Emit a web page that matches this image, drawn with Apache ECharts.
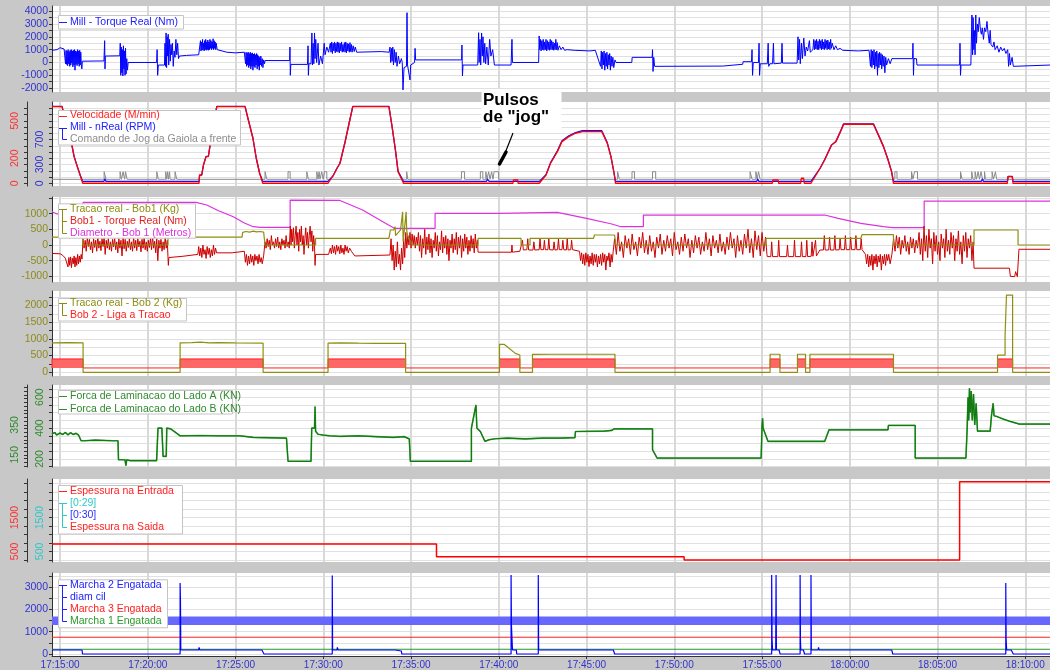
<!DOCTYPE html>
<html><head><meta charset="utf-8">
<script src="https://cdn.jsdelivr.net/npm/echarts@6/dist/echarts.min.js"></script>
<style>html,body{margin:0;padding:0;background:#c8c8c8}#c{width:1050px;height:670px}</style>
</head><body><div id="c"></div><script>
// ---------- DATA (x = minutes after 17:15:00) ----------
const X_MIN = -0.46, X_MAX = 56.41;
const timeTicks = [0,5,10,15,20,25,30,35,40,45,50,55];

const torqueMill = [[-0.46,950],[-0.17,1000],[0,1150],[0.11,1200],[0.23,1050],[0.28,1000],
[0.31,-100],[0.34,950],[0.37,-150],[0.40,900],[0.43,-250],[0.46,1000],[0.49,-100],[0.52,850],[0.55,-300],[0.58,950],[0.61,-200],[0.64,1000],[0.67,-50],[0.70,900],[0.73,-350],[0.76,950],[0.79,-200],[0.82,1000],[0.85,-600],[0.88,900],[0.91,-150],[0.94,850],[0.97,-250],[1.00,1000],[1.03,-100],[1.06,900],[1.09,-300],[1.12,950],[1.15,-200],[1.18,800],[1.21,-150],[1.24,-500],[1.27,100],
[2.50,120],[2.53,100],[2.54,1700],[2.56,-500],[2.58,500],[3.40,520],
[3.43,1500],[3.46,-1000],[3.49,1200],[3.52,-800],[3.55,1000],[3.58,-1050],[3.61,1300],[3.64,-500],[3.67,900],[3.70,-1000],[3.73,1100],[3.76,-900],[3.80,300],[3.84,-600],[3.88,0],
[5.50,0],[5.53,1000],[5.56,-1000],[5.60,-200],[5.95,-200],
[5.98,1500],[6.01,-300],[6.04,2300],[6.07,-400],[6.10,2000],[6.13,500],[6.16,2200],[6.19,-200],[6.24,1800],[6.28,100],[6.32,1400],[6.36,600],[6.40,1500],[6.45,-300],[6.50,900],[6.55,400],[6.60,1800],[6.65,600],[6.70,1500],[6.75,300],[6.80,500],[7.20,550],[7.90,600],
[8.00,1700],[8.03,900],[8.06,1600],[8.09,950],[8.12,1800],[8.15,1000],[8.18,1500],[8.21,900],[8.24,1700],[8.27,1000],[8.30,1800],[8.33,950],[8.36,1600],[8.39,1000],[8.42,1750],[8.45,950],[8.48,1600],[8.51,1000],[8.54,1800],[8.57,1100],[8.60,1700],[8.63,1000],[8.66,1600],[8.69,1100],[8.72,1850],[8.75,1000],[8.78,1700],[8.81,1100],[8.84,1600],[8.87,1000],[8.90,1500],[8.95,1000],[9.00,850],
[9.50,800],[10.00,750],[10.50,800],
[10.57,-100],[10.60,800],[10.63,-300],[10.66,750],[10.69,-200],[10.72,800],[10.75,-400],[10.78,700],[10.81,-250],[10.84,800],[10.87,-500],[10.90,700],[10.93,-300],[10.96,750],[10.99,-600],[11.02,650],[11.05,-300],[11.08,700],[11.11,-400],[11.14,600],[11.17,-200],[11.20,700],[11.23,-500],[11.26,600],[11.29,-300],[11.32,500],[11.35,-600],[11.38,400],[11.41,-200],[11.44,500],[11.48,-300],[11.52,300],[11.56,-400],[11.60,200],[11.65,-100],[11.68,150],
[13.08,150],[13.10,1200],[13.12,-1000],[13.15,-150],[14.10,-150],[14.13,1300],[14.15,-1000],[14.18,-100],
[14.30,-100],[14.35,2300],[14.38,-200],[14.42,1500],[14.46,-100],[14.50,2300],[14.53,300],[14.57,1800],[14.62,0],[14.70,1500],[14.75,-200],[14.85,500],[14.95,-100],[15.05,1500],[15.10,600],[15.20,1200],[15.30,800],
[15.40,1500],[15.44,800],[15.48,1600],[15.52,700],[15.56,1500],[15.60,900],[15.64,1600],[15.68,750],[15.72,1500],[15.76,850],[15.80,1600],[15.84,800],[15.88,1550],[15.92,750],[15.96,1500],[16.00,900],[16.04,1600],[16.08,800],[16.12,1400],[16.16,850],[16.20,1550],[16.24,800],[16.28,1600],[16.32,750],[16.36,1500],[16.40,900],[16.44,1450],[16.48,800],[16.52,1550],[16.56,850],[16.60,1400],[16.64,800],[16.70,1300],[16.76,850],[16.82,1200],[16.90,800],[17.00,850],[18.30,850],[18.75,800],
[18.80,1200],[18.84,0],[18.88,1100],[18.92,100],[18.96,1200],[19.00,-200],[19.05,1000],[19.10,0],[19.15,800],[19.20,-300],[19.28,500],[19.35,-100],[19.45,300],[19.50,0],
[19.54,-2140],[19.60,-400],[19.74,-300],[19.77,3880],[19.80,-200],[19.90,-100],[19.94,-1360],[19.98,-200],
[20.20,0],[20.23,1100],[20.26,200],[22.88,200],[22.90,1360],[22.93,-1050],[22.96,-200],[23.80,-200],
[23.85,2320],[23.88,0],[23.93,1800],[23.97,-200],[24.02,2300],[24.06,500],[24.10,2000],[24.15,0],[24.20,1500],[24.25,-100],[24.32,1200],[24.40,-200],[24.48,1800],[24.55,500],[24.65,1000],[24.75,-200],[25.70,-200],[25.75,1800],[25.78,0],[27.27,0],
[27.30,2065],[27.33,1000],[27.37,1800],[27.41,900],[27.45,1700],[27.49,1000],[27.53,1800],[27.57,950],[27.61,1600],[27.65,1000],[27.69,1800],[27.73,900],[27.77,1700],[27.81,1000],[27.85,1600],[27.89,950],[27.93,1800],[27.97,1000],[28.01,1700],[28.05,1000],[28.09,1600],[28.13,950],[28.17,1500],[28.21,1000],[28.25,1800],[28.29,1000],[28.33,1550],[28.37,950],[28.45,1300],[28.55,1000],[28.65,1200],[28.75,950],[28.90,1000],[29.30,950],[30.20,900],[30.50,950],
[30.80,-300],[30.84,900],[30.88,-500],[30.92,800],[30.96,-200],[31.00,900],[31.04,-600],[31.08,700],[31.12,-300],[31.16,800],[31.20,-500],[31.24,600],[31.28,-200],[31.32,700],[31.36,-600],[31.40,500],[31.45,-300],[31.50,400],[31.55,-400],[31.62,200],[31.68,0],
[32.58,0],[32.60,400],[33.74,400],[33.76,1000],[33.79,-700],[33.83,400],[33.88,-300],[37.76,-280],[37.78,-140],[38.90,-140],[38.92,60],[39.40,60],
[39.43,1000],[39.46,-1000],[39.50,0],[39.80,0],[39.83,1500],[39.86,-1000],[39.90,-100],
[40.30,-100],[40.35,1500],[40.38,-300],[40.45,-100],[40.60,-100],[40.65,1500],[40.68,-100],[41.10,-50],[41.14,1500],[41.17,-50],[41.60,-50],
[42.00,-50],[42.05,2000],[42.09,200],[42.14,1800],[42.18,-100],[42.25,1500],[42.30,300],[42.38,1900],[42.45,500],[42.52,1200],[42.60,900],[42.70,1700],[42.75,800],[42.90,1000],
[42.95,1800],[42.99,1000],[43.03,1700],[43.07,1050],[43.11,1800],[43.15,1000],[43.19,1650],[43.23,1000],[43.27,1800],[43.31,1100],[43.35,1700],[43.39,1000],[43.43,1800],[43.47,1050],[43.51,1600],[43.55,1000],[43.59,1800],[43.63,1100],[43.67,1700],[43.71,1000],[43.75,1750],[43.79,1050],[43.83,1600],[43.87,1000],[43.91,1800],[43.95,1100],[44.00,1500],[44.10,1000],[44.20,1300],[44.30,1000],[44.45,1100],[44.60,950],[45.50,900],[46.10,950],
[46.18,-300],[46.22,1000],[46.26,-400],[46.30,900],[46.34,-200],[46.38,1000],[46.42,-500],[46.46,800],[46.50,-300],[46.54,900],[46.58,-1000],[46.62,700],[46.66,-400],[46.70,800],[46.74,-200],[46.78,700],[46.82,-500],[46.86,600],[46.90,-300],[46.95,500],[47.00,-800],[47.05,400],[47.10,-200],[47.20,300],[47.30,-100],[47.40,300],[47.58,300],
[48.58,300],[48.60,1500],[48.63,-1000],[48.66,300],[48.80,300],[48.83,-200],[51.26,-200],[51.28,1500],[51.31,-1000],[51.34,-200],[51.90,-200],
[51.96,3700],[52.00,600],[52.03,3500],[52.07,1000],[52.10,2500],[52.14,600],[52.18,3700],[52.22,1500],[52.27,3000],[52.32,2400],[52.38,3500],[52.45,2500],[52.50,2200],[52.55,2700],[52.62,1800],[52.68,2700],[52.75,2400],[52.82,3200],[52.88,2300],[52.95,1500],[53.00,2500],[53.05,1400],[53.15,1200],[53.22,1600],[53.28,1000],[53.40,1300],[53.50,800],[53.60,1200],[53.70,900],[53.80,1100],[53.90,700],[54.00,1000],
[54.05,-300],[54.10,700],[54.15,-200],[54.25,400],[54.32,-300],[54.40,-200],[56.41,-200]];

const velocidade = [[-0.46,613],[0.11,613],[0.68,300],[0.80,213],[0.98,133],[1.14,66],[1.29,0],[7.92,0],[7.95,66],[8.07,66],[8.17,146],[8.32,213],[8.45,213],[8.55,306],[8.93,613],[10.54,613],[10.73,506],[10.99,360],[11.18,200],[11.37,80],[11.55,0],
[15.27,0],[15.56,60],[15.78,120],[15.95,160],[16.24,330],[16.47,480],[16.68,613],[18.74,613],[18.92,453],[19.11,266],[19.26,93],[19.57,0],
[25.80,0],[25.84,26],[26.08,26],[26.10,0],[27.31,0],[27.69,66],[27.95,160],[28.34,253],[28.60,333],[28.99,373],[29.37,400],[29.76,413],[30.87,413],[31.18,320],[31.39,213],[31.57,80],[31.65,0],
[40.58,0],[40.62,26],[40.91,26],[40.95,0],[42.20,0],[42.24,40],[42.37,40],[42.41,0],
[42.79,0],[43.31,120],[43.57,186],[43.96,306],[44.21,333],[44.47,413],[44.65,472],[46.35,472],[46.67,373],[46.92,293],[47.18,186],[47.38,93],[47.49,0],
[53.98,0],[54.02,53],[54.26,53],[54.30,0],[56.41,0]];

const rpmMill = [[-0.46,1230],[0.11,1230],[0.68,600],[0.80,430],[0.98,270],[1.14,135],[1.29,30],[2.50,30],[2.55,70],[2.62,30],[3.60,30],[3.65,60],[3.75,30],[7.92,30],[7.95,130],[8.07,130],[8.17,290],[8.32,430],[8.45,430],[8.55,610],[8.93,1230],[10.54,1230],[10.73,1010],[10.99,720],[11.18,400],[11.37,160],[11.55,30],
[15.27,30],[15.56,120],[15.78,240],[15.95,320],[16.24,660],[16.47,960],[16.68,1230],[18.74,1230],[18.92,900],[19.11,530],[19.26,190],[19.57,30],
[24.30,30],[24.35,70],[24.45,30],[27.31,30],[27.69,135],[27.95,330],[28.34,520],[28.60,680],[28.99,760],[29.37,810],[29.76,840],[30.87,840],[31.18,650],[31.39,430],[31.57,160],[31.65,30],
[39.70,30],[39.75,70],[39.82,30],[42.79,30],[43.31,240],[43.57,380],[43.96,610],[44.21,670],[44.47,830],[44.65,950],[46.35,950],[46.67,750],[46.92,590],[47.18,380],[47.38,190],[47.49,30],
[52.50,30],[52.55,70],[52.62,30],[53.98,30],[54.02,110],[54.26,110],[54.30,30],[56.41,30]];

const jogStart = [2.51,3.42,3.59,3.73,5.51,6.02,6.13,6.24,6.55,11.68,12.99,14.06,14.63,14.76,14.91,15.07,19.75,22.87,23.95,24.26,24.42,24.59,24.73,31.77,32.59,33.76,39.32,39.65,39.80,47.57,48.52,48.69,51.31,51.95,52.14,52.31,52.48,52.68,53.11,53.30];
const jogEnd   = [2.62,3.50,3.68,3.82,5.60,6.08,6.18,6.27,6.65,11.78,13.11,14.15,14.70,14.81,14.99,15.20,19.81,23.05,24.09,24.33,24.50,24.67,24.99,31.87,32.73,33.94,39.43,39.72,39.89,47.69,48.60,48.86,51.40,52.02,52.22,52.39,52.56,52.73,53.19,53.37];
const jogLevels = [0, 1];

const diametroBob1 = [[-0.46,1060],[-0.17,990],[1.00,900],[1.31,900],[1.31,1360],[7.75,1360],[8.36,1274],[9.00,1100],[9.87,900],[10.50,700],[11.01,583],[11.40,564],[13.11,564],[13.11,1433],[15.95,1420],[17.24,1115],[18.54,691],[19.05,532],[21.37,532],[21.37,1010],[25.00,1010],[25.04,1060],[28.34,1040],[30.00,850],[31.44,669],[31.95,583],[33.24,583],[33.24,955],[43.57,955],[44.34,850],[45.63,691],[46.92,583],[47.44,551],[49.24,551],[49.24,1400],[56.41,1400]];

const tracaoBob1 = [[-0.46,250],[1.31,250],[1.31,0],[6.15,0],[6.15,250],[10.37,250],[10.40,400],[10.60,430],[10.80,410],[11.00,440],[11.20,420],[11.40,430],[11.60,410],[11.68,0],[14.56,0],[14.56,213],[18.74,213],[18.82,478],[19.00,480],[19.09,583],[19.12,300],[19.40,480],[19.52,1060],[19.55,100],[19.72,1060],[19.75,480],[19.80,300],[20.08,0],[23.82,0],[23.82,213],[26.27,213],[26.27,0],[26.78,0],[26.78,213],[30.40,213],[30.45,318],[31.60,318],[31.67,0],[40.22,0],[40.22,213],[45.63,213],[45.70,330],[47.49,330],[47.49,0],[52.08,0],[52.08,478],[54.59,478],[54.59,0],[56.41,0]];

const torqueBob1 = [[-0.46,-270],[0.00,-280],[0.15,-330],[0.30,-420],[0.40,-450],
[0.45,-700],[0.50,-400],[0.55,-650],[0.60,-380],[0.65,-720],[0.70,-420],[0.75,-600],[0.80,-350],[0.85,-700],[0.90,-400],[0.95,-650],[1.00,-300],[1.05,-600],[1.10,-350],[1.15,-550],[1.20,-300],[1.25,-450],
[1.31,200],[1.37,-100],[1.43,150],[1.49,-200],[1.55,250],[1.61,-50],[1.67,180],[1.73,-150],[1.79,100],[1.85,-250],[1.91,200],[1.97,-80],[2.03,150],[2.09,-200],[2.15,300],[2.21,-100],[2.27,120],[2.33,-180],[2.39,200],[2.45,-50],[2.51,250],[2.57,-300],[2.63,150],[2.69,-100],[2.75,200],[2.81,-150],[2.87,100],[2.93,-200],[2.99,180],[3.05,-60],[3.11,220],[3.17,-150],[3.23,100],[3.29,-250],[3.35,200],[3.41,-100],[3.47,150],[3.53,-350],[3.59,250],[3.65,-120],[3.71,180],[3.77,-200],[3.83,120],[3.89,-80],[3.95,200],[4.01,-150],[4.07,100],[4.13,-200],[4.19,250],[4.25,-100],[4.31,150],[4.37,-180],[4.43,200],[4.49,-60],[4.55,120],[4.61,-220],[4.67,180],[4.73,-100],[4.79,250],[4.85,-150],[4.91,100],[4.97,-200],[5.03,150],[5.09,-80],[5.15,200],[5.21,-150],[5.27,300],[5.33,-100],[5.39,120],[5.45,-250],[5.51,200],[5.57,-500],[5.63,150],[5.69,-100],[5.75,180],[5.81,-200],[5.87,100],[5.93,-150],[5.99,250],[6.05,-100],[6.11,150],
[6.15,-400],[6.17,-650],[6.20,-400],[7.00,-360],[7.85,-300],
[7.90,-50],[7.96,-350],[8.02,-100],[8.08,-400],[8.14,0],[8.20,-300],[8.26,-150],[8.32,-430],[8.38,-50],[8.44,-300],[8.50,-100],[8.56,-400],[8.62,-150],[8.68,-350],[8.74,0],[8.80,-300],[8.86,-100],[8.92,-250],[9.00,-300],[9.80,-250],[10.50,-200],
[10.56,-550],[10.62,-300],[10.68,-650],[10.74,-350],[10.80,-600],[10.86,-300],[10.92,-550],[10.98,-350],[11.04,-650],[11.10,-300],[11.16,-500],[11.22,-350],[11.28,-600],[11.34,-300],[11.40,-550],[11.46,-400],[11.52,-600],[11.60,-350],
[11.68,100],[11.74,-100],[11.80,200],[11.86,-50],[11.92,150],[11.98,-150],[12.04,300],[12.10,0],[12.16,100],[12.22,-100],[12.28,200],[12.34,-50],[12.40,250],[12.46,-100],[12.52,100],[12.58,-150],[12.64,200],[12.70,0],[12.76,150],[12.82,-100],[12.88,300],[12.94,-50],[13.00,100],[13.06,-100],
[13.12,600],[13.16,0],[13.20,500],[13.25,100],[13.30,550],[13.35,-100],[13.40,300],[13.45,600],[13.50,0],[13.55,400],[13.60,-200],[13.65,500],[13.70,100],[13.75,600],[13.80,0],[13.85,300],[13.90,-300],[13.95,200],[14.00,550],[14.05,0],[14.10,400],[14.15,-100],[14.20,300],[14.25,600],[14.30,100],[14.35,450],[14.40,-200],[14.45,300],[14.50,0],
[14.53,-650],[14.56,-300],[15.30,-300],[15.40,-100],[15.46,-280],[15.52,0],[15.58,-250],[15.64,-50],[15.70,-300],[15.76,0],[15.82,-200],[15.88,-50],[15.94,-280],[16.00,0],[16.06,-250],[16.12,-100],[16.18,-300],[16.24,0],[16.30,-200],[16.36,-50],[16.42,-250],[16.50,-100],[16.60,-200],[16.80,-350],[18.80,-320],
[18.86,200],[18.92,-500],[18.98,0],[19.04,-800],[19.10,-200],[19.16,-700],[19.22,100],[19.28,-600],[19.34,-300],[19.40,-800],[19.46,-100],[19.52,-600],[19.58,200],[19.64,-400],
[19.70,400],[19.76,-100],[19.82,300],[19.88,0],[19.94,400],[20.00,-100],[20.06,350],[20.12,0],[20.18,300],[20.24,-100],[20.30,250],[20.36,0],
[20.42,400],[20.48,-200],[20.54,300],[20.60,-400],[20.66,200],[20.72,-100],[20.78,500],[20.84,-300],[20.90,250],[20.96,-150],[21.02,350],[21.08,-250],[21.14,200],[21.20,-400],[21.26,150],[21.32,-100],[21.38,400],[21.44,-200],[21.50,300],[21.56,-350],[21.62,100],[21.68,-150],[21.74,450],[21.80,-250],[21.86,250],[21.92,-100],[21.98,300],[22.04,-300],[22.10,200],[22.16,-500],[22.22,150],[22.28,-100],[22.34,350],[22.40,-250],[22.46,200],[22.52,-150],[22.58,400],[22.64,-300],[22.70,250],[22.76,-100],[22.82,300],[22.88,-400],[22.94,200],[23.00,-200],[23.06,350],[23.12,-100],[23.18,250],[23.24,-300],[23.30,150],[23.36,-200],[23.42,300],[23.48,-100],[23.54,200],[23.60,-250],[23.66,350],[23.72,-100],[23.78,150],
[23.82,-230],[25.72,-230],[25.75,0],[25.78,-230],[26.20,-200],
[26.30,-160],[26.35,150],[26.40,-160],[26.60,-150],[26.65,200],[26.70,-160],[26.95,-160],[27.00,100],[27.05,-160],[27.30,-150],[27.35,200],[27.40,-150],[27.55,-150],[27.60,150],[27.65,-150],[27.80,-150],[27.85,200],[27.90,-150],[28.10,-160],[28.15,100],[28.20,-160],[28.35,-150],[28.40,200],[28.45,-150],[28.60,-150],[28.65,150],[28.70,-150],[28.85,-160],[28.90,200],[28.95,-160],[29.10,-150],[29.15,150],[29.20,-150],[29.60,-200],
[29.66,-500],[29.72,-250],[29.78,-600],[29.84,-300],[29.90,-650],[29.96,-250],[30.02,-550],[30.08,-300],[30.14,-690],[30.20,-350],[30.26,-600],[30.32,-250],[30.38,-650],[30.44,-300],[30.50,-550],[30.56,-300],[30.62,-700],[30.68,-350],[30.74,-600],[30.80,-300],[30.86,-650],[30.92,-250],[30.98,-550],[31.04,-300],[31.10,-800],[31.16,-350],[31.22,-500],[31.28,-250],[31.34,-700],[31.40,-300],[31.46,-550],[31.52,-200],
[31.60,200],[31.70,-300],[31.80,400],[31.90,-200],[32.00,100],[32.10,-400],[32.20,300],[32.30,-100],[32.40,200],[32.50,-300],[32.60,350],[32.70,-150],[32.80,100],[32.90,-350],[33.00,250],[33.10,-100],[33.20,400],[33.30,-250],[33.40,150],[33.50,-300],[33.60,300],[33.70,-200],[33.80,100],[33.90,-400],[34.00,250],[34.10,-100],[34.20,350],[34.30,-300],[34.40,150],[34.50,-200],[34.60,300],[34.70,-100],[34.80,200],[34.90,-350],[35.00,400],[35.10,-150],[35.20,100],[35.30,-300],[35.40,250],[35.50,-200],[35.60,350],[35.70,-100],[35.80,200],[35.90,-400],[36.00,150],[36.10,-250],[36.20,300],[36.30,-100],[36.40,250],[36.50,-300],[36.60,100],[36.70,-200],[36.80,400],[36.90,-150],[37.00,200],[37.10,-350],[37.20,300],[37.30,-100],[37.40,150],[37.50,-250],[37.60,350],[37.70,-200],[37.80,100],[37.90,-300],[38.00,250],[38.10,-150],[38.20,400],[38.30,-100],[38.40,200],[38.50,-400],[38.60,300],[38.70,-200],[38.80,150],[38.90,-300],[39.00,350],[39.10,-100],[39.20,500],[39.30,-250],[39.40,200],[39.50,-400],[39.60,450],[39.70,-150],[39.80,300],[39.90,-350],[40.00,400],[40.10,-200],[40.20,250],[40.28,-300],
[40.30,-370],[40.50,-370],[40.55,100],[40.60,-370],[40.90,-370],[40.95,150],[41.00,-370],[41.40,-370],[41.45,0],[41.50,-370],[41.80,-370],[41.85,150],[41.90,-370],[42.20,-370],[42.25,100],[42.30,-370],[42.50,-370],[42.55,150],[42.60,-370],[42.80,-360],[42.85,100],[42.90,-360],[43.00,-350],[43.05,150],[43.10,-350],[43.30,-160],
[43.50,-160],[43.55,300],[43.60,-160],[43.80,-160],[43.85,250],[43.90,-160],[44.10,-160],[44.15,300],[44.20,-160],[44.40,-150],[44.45,200],[44.50,-150],[44.70,-150],[44.75,300],[44.80,-150],[45.00,-150],[45.05,250],[45.10,-150],[45.30,-150],[45.35,300],[45.40,-150],[45.60,-150],[45.65,200],[45.70,-150],[45.90,-300],
[45.96,-600],[46.02,-300],[46.08,-700],[46.14,-350],[46.20,-650],[46.26,-300],[46.32,-800],[46.38,-350],[46.44,-600],[46.50,-300],[46.56,-700],[46.62,-350],[46.68,-550],[46.74,-300],[46.80,-800],[46.86,-350],[46.92,-600],[46.98,-300],[47.04,-650],[47.10,-300],[47.16,-500],[47.22,-300],[47.30,-600],[47.40,-300],
[47.50,200],[47.58,-200],[47.66,300],[47.74,-100],[47.82,250],[47.90,-300],[47.98,150],[48.06,-100],[48.14,300],[48.22,-200],[48.30,100],[48.38,-300],[48.46,250],[48.54,-100],[48.62,200],[48.70,-250],[48.78,150],[48.86,-100],
[48.95,400],[49.02,-300],[49.09,200],[49.16,-500],[49.23,600],[49.30,-200],[49.37,300],[49.44,-400],[49.51,500],[49.58,-100],[49.65,200],[49.72,-600],[49.79,400],[49.86,-200],[49.93,300],[50.00,-300],[50.07,100],[50.14,-500],[50.21,350],[50.28,-100],[50.35,200],[50.42,-400],[50.49,500],[50.56,-200],[50.63,150],[50.70,-300],[50.77,400],[50.84,-100],[50.91,300],[50.98,-500],[51.05,200],[51.12,-200],[51.19,450],[51.26,-300],[51.33,100],[51.40,-600],[51.47,300],[51.54,-200],[51.61,400],[51.68,-400],[51.75,200],[51.82,-100],[51.89,300],[51.96,-500],[52.03,100],
[52.08,-740],[54.10,-740],[54.15,-1000],[54.40,-1010],[54.45,-850],[54.55,-1010],[54.62,-1000],[54.64,-137],[56.41,-137]];

const tracaoBob2 = [[-0.46,880],[0.50,885],[1.31,880],[1.31,0],[6.84,0],[6.84,880],[7.50,890],[8.00,900],[8.50,880],[9.00,890],[10.00,880],[11.57,870],[11.57,0],[15.27,0],[15.27,870],[16.00,880],[17.00,870],[18.00,866],[19.69,866],[19.69,0],[25.04,0],[25.04,836],[25.30,836],[25.55,734],[25.94,567],[26.20,516],[26.20,0],[26.92,0],[26.92,537],[28.00,540],[30.00,540],[31.62,540],[31.62,0],[40.46,0],[40.46,540],[41.02,540],[41.02,0],[42.02,0],[42.02,540],[42.48,540],[42.48,0],[42.73,0],[42.73,540],[45.00,540],[47.49,540],[47.49,0],[53.42,0],[53.42,516],[53.85,516],[53.85,1113],[53.93,2307],[54.28,2307],[54.28,0],[56.41,0]];

const ligaStart = [-0.46,6.84,15.27,25.04,26.92,40.46,42.02,42.73,53.42];
const ligaEnd   = [1.31,11.57,19.69,26.20,31.62,41.02,42.48,47.49,54.28];
const ligaLevels = [130, 400];

const forcaA = [[-0.46,361],[-0.30,372],[-0.20,355],[0.00,368],[0.15,358],[0.30,372],[0.45,356],[0.60,370],[0.75,358],[0.90,366],[1.05,355],[1.14,362],[1.20,318],[1.40,318],[2.00,322],[3.00,318],[3.30,318],[3.33,195],[3.70,195],[3.75,157],[3.80,195],[4.00,189],[5.50,189],[5.58,400],[5.80,400],[5.87,217],[6.05,217],[6.08,400],[6.30,395],[6.60,370],[6.84,350],[8.00,352],[9.00,350],[10.26,350],[11.00,340],[12.90,335],[12.99,185],[14.30,185],[14.34,400],[14.50,400],[14.53,539],[14.56,380],[14.70,360],[15.00,355],[15.38,350],[16.00,346],[17.00,350],[18.00,345],[19.00,340],[19.60,345],[19.90,330],[19.96,185],[23.44,185],[23.44,400],[23.70,550],[23.75,400],[23.95,378],[24.21,314],[24.46,325],[24.80,331],[25.50,335],[26.50,330],[27.50,335],[28.50,335],[29.34,338],[29.37,378],[31.00,380],[31.44,385],[31.57,395],[33.76,395],[33.76,260],[34.02,206],[39.95,206],[40.00,410],[40.03,464],[40.06,400],[40.34,314],[43.57,314],[43.82,389],[47.18,389],[47.20,417],[48.73,417],[48.73,206],[51.62,206],[51.69,400],[51.74,600],[51.78,450],[51.82,658],[51.86,500],[51.92,640],[51.98,450],[52.05,620],[52.12,420],[52.20,560],[52.28,380],[52.34,378],[52.50,380],[53.00,380],[53.08,486],[53.17,561],[53.22,480],[53.38,475],[53.70,460],[54.15,443],[54.66,426],[56.41,426]];

const espessuraEntrada = [[-0.46,718],[21.45,718],[21.45,344],[35.56,344],[35.56,247],[51.26,247],[51.26,2559],[56.41,2559]];

const diamCil = [[-0.46,1490],[56.41,1490]];
const marcha3 = [[-0.46,752],[56.41,752]];
const marcha1 = [[-0.46,212],[56.41,212]];
const marcha2 = [[-0.46,180],[1.25,180],[1.28,0],[6.84,0],[6.84,3185],[6.86,2400],[6.88,180],[7.90,180],[7.92,300],[7.96,180],[11.50,180],[11.57,120],[11.62,0],[15.51,0],[15.51,3527],[15.53,180],[15.78,180],[15.80,300],[15.84,180],[19.09,180],[19.12,135],[19.45,135],[19.47,0],[25.70,0],[25.70,3550],[25.72,1306],[25.77,1306],[25.78,180],[26.00,180],[26.02,0],[27.25,0],[27.25,3550],[27.27,180],[31.53,180],[31.60,0],[40.55,0],[40.55,3550],[40.57,707],[40.60,180],[40.78,180],[40.80,3550],[40.82,180],[40.97,180],[41.03,0],[42.17,0],[42.17,3550],[42.19,600],[42.21,180],[42.36,180],[42.42,0],[42.79,0],[42.79,3550],[42.81,180],[43.20,180],[43.22,300],[43.25,180],[47.39,180],[47.45,0],[53.89,0],[53.89,3185],[53.91,662],[53.94,180],[54.20,180],[54.25,250],[54.28,180],[54.32,0],[56.41,0]];

// axis tick label sets
const ticksTorque = [-2000,-1500,-1000,-500,0,500,1000,1500,2000,2500,3000,3500,4000];
const labelsTorque = [-2000,-1000,0,1000,2000,3000,4000];
const ticksVel = [0,50,100,150,200,250,300,350,400,450,500,550,600];
const labelsVel = [0,200,500];
const ticksRpm = [0,100,200,300,400,500,600,700,800,900,1000,1100,1200];
const labelsRpm = [0,300,700];
const ticksBob1 = [-1000,-500,0,500,1000,1500];
const labelsBob1 = [-1000,-500,0,500,1000];
const ticksBob2 = [0,250,500,750,1000,1250,1500,1750,2000,2250];
const labelsBob2 = [0,500,1000,1500,2000];
const ticksKnOut = [75,100,125,150,175,200,225,250,275,300,325,350,375,400,425,450,475,500,525,550,575,600];
const labelsKnOut = [150,350];
const ticksKnIn = [150,200,250,300,350,400,450,500,550,600,650];
const labelsKnIn = [200,400,600];
const ticksEsp = [250,500,750,1000,1250,1500,1750,2000,2250,2500];
const labelsEsp = [500,1500];
const ticksMarcha = [0,500,1000,1500,2000,2500,3000,3500];
const labelsMarcha = [0,1000,2000,3000];

// ---------- CHART ----------
const FONT = 'Liberation Sans';
const grids = [[6,86],[102,84],[197,85],[291,85],[385,82],[479,83],[573,83]];

function pad(n){return (n<10?'0':'')+n;}
function fmtTime(m){const t=Math.round(62100+m*60);return Math.floor(t/3600)+':'+pad(Math.floor(t%3600/60))+':'+pad(t%60);}
function fmtNum(v){return String(Math.round(v));}
function steps(starts, ends, lo, hi){const d=[[X_MIN,lo]];starts.forEach((s,i)=>{d.push([s,lo],[s,hi],[ends[i],hi],[ends[i],lo]);});d.push([X_MAX,lo]);return d;}

function xAx(i,last){return {type:'value',gridIndex:i,min:X_MIN,max:X_MAX,position:'bottom',
  axisLine:{show:last,onZero:false,lineStyle:{color:'#333',width:1}},
  axisTick:{show:last,customValues:timeTicks,length:3,lineStyle:{color:'#333'}},
  axisLabel:{show:last,customValues:timeTicks,formatter:fmtTime,color:'#3232c8',fontSize:10,fontFamily:FONT,margin:4},
  splitLine:{show:true,lineStyle:{color:'#d9d9d9',width:2}}};}
function yAx(o){return {type:'value',gridIndex:o.g,min:o.min,max:o.max,position:'left',offset:o.off||0,show:o.show!==false,
  axisLine:{show:true,onZero:false,lineStyle:{color:'#333',width:1}},
  axisTick:{show:true,customValues:o.ticks,length:3,lineStyle:{color:'#333'}},
  axisLabel:{show:true,customValues:o.labels,formatter:fmtNum,color:o.color,fontSize:10.5,fontFamily:FONT,rotate:o.rot||0,margin:o.margin||4},
  splitLine:{show:!!o.grid,lineStyle:{color:'#e0e0e0',width:1}}};}

const yAxes = [
  yAx({g:0,min:-2300,max:4400,ticks:ticksTorque,labels:labelsTorque,color:'#3232d0',grid:true}),
  yAx({g:1,min:-22,max:650,ticks:ticksVel,labels:labelsVel,color:'#ff3030',rot:90,off:25,margin:6}),
  yAx({g:1,min:-44,max:1300,ticks:ticksRpm,labels:labelsRpm,color:'#3232d0',rot:90,margin:6,grid:true}),
  {type:'value',gridIndex:1,min:-0.88,max:10.17,show:false,splitLine:{show:false}},
  yAx({g:2,min:-1180,max:1530,ticks:ticksBob1,labels:labelsBob1,color:'#8c8c1e',grid:true}),
  yAx({g:3,min:-110,max:2430,ticks:ticksBob2,labels:labelsBob2,color:'#8c8c1e',grid:true}),
  yAx({g:4,min:68,max:617,ticks:ticksKnOut,labels:labelsKnOut,color:'#2e8b2e',rot:90,off:25,margin:6}),
  yAx({g:4,min:148,max:679,ticks:ticksKnIn,labels:labelsKnIn,color:'#2e8b2e',rot:90,margin:6,grid:true}),
  yAx({g:5,min:188,max:2638,ticks:ticksEsp,labels:labelsEsp,color:'#ff3030',rot:90,off:25,margin:6}),
  yAx({g:5,min:188,max:2638,ticks:ticksEsp,labels:labelsEsp,color:'#30c8c8',rot:90,margin:6,grid:true}),
  yAx({g:6,min:-90,max:3635,ticks:ticksMarcha,labels:labelsMarcha,color:'#3232d0',grid:true})
];

function ln(name,xi,yi,data,color,w,extra){return Object.assign({type:'line',name:name,xAxisIndex:xi,yAxisIndex:yi,data:data,showSymbol:false,symbol:'none',silent:true,animation:false,
  lineStyle:{color:color,width:w||1},itemStyle:{color:color}},extra||{});}

const series = [
  ln('Mill - Torque Real (Nm)',0,0,torqueMill,'#0000ff',1),
  ln('Comando de Jog da Gaiola a frente',1,3,steps(jogStart,jogEnd,jogLevels[0],jogLevels[1]),'#8a8a8a',1),
  ln('Mill - nReal (RPM)',1,2,rpmMill,'#1010ff',1.3),
  ln('Velocidade (M/min)',1,1,velocidade,'#ff0000',1.3),
  ln('Diametro - Bob 1 (Metros)',2,4,diametroBob1,'#dd33dd',1.2),
  ln('Bob1 - Torque Real (Nm)',2,4,torqueBob1,'#cc0000',1),
  ln('Tracao real - Bob1 (Kg)',2,4,tracaoBob1,'#8f8f10',1.2),
  ln('Bob 2 - Liga a Tracao',3,5,steps(ligaStart,ligaEnd,ligaLevels[0],ligaLevels[1]),'#ff2020',1,{areaStyle:{color:'#ff6666',opacity:1,origin:ligaLevels[0]}}),
  ln('Tracao real - Bob 2 (Kg)',3,5,tracaoBob2,'#8f8f10',1.2),
  ln('Forca de Laminacao do Lado B (KN)',4,7,forcaA,'#4caf4c',1.6),
  ln('Forca de Laminacao do Lado A (KN)',4,7,forcaA,'#137a13',1.2),
  ln('Espessura na Entrada',5,9,espessuraEntrada,'#ff0000',1.5),
  ln('diam cil',6,10,diamCil,'#6868ff',8.5),
  ln('Marcha 3 Engatada',6,10,marcha3,'#ff2020',1),
  ln('Marcha 1 Engatada',6,10,marcha1,'#2a9a2a',1),
  ln('Marcha 2 Engatada',6,10,marcha2,'#0000ff',1.2)
];

// legends (graphic)
const legendSpecs = [
  {x:58,y:15,w:125,h:13.5,y0:21.8,dy:12,rows:[['Mill - Torque Real (Nm)','#2020ff']],groups:[[0,0]]},
  {x:58,y:110,w:182,h:34.5,y0:115.6,dy:11.9,rows:[['Velocidade (M/min)','#ff2020'],['Mill - nReal (RPM)','#2020ff'],['Comando de Jog da Gaiola a frente','#8c8c8c']],groups:[[0,0],[1,2]]},
  {x:58,y:203.3,w:137,h:34.4,y0:209.3,dy:11.7,rows:[['Tracao real - Bob1 (Kg)','#8c8c10'],['Bob1 - Torque Real (Nm)','#e02020'],['Diametro - Bob 1 (Metros)','#e030e0']],groups:[[0,2]]},
  {x:58,y:298,w:128,h:22.5,y0:303.3,dy:11.5,rows:[['Tracao real - Bob 2 (Kg)','#8c8c10'],['Bob 2 - Liga a Tracao','#ff2020']],groups:[[0,1]]},
  {x:58,y:390,w:174,h:23.5,y0:396,dy:13.2,rows:[['Forca de Laminacao do Lado A (KN)','#2e8b2e'],['Forca de Laminacao do Lado B (KN)','#2e8b2e']],groups:[[0,0],[1,1]]},
  {x:58,y:485,w:124,h:48.5,y0:490.7,dy:12.2,rows:[['Espessura na Entrada','#ff2020'],['[0:29]','#30c8c8'],['[0:30]','#3030ff'],['Espessura na Saida','#ff2020']],groups:[[0,0],[1,3]]},
  {x:58,y:579.3,w:109,h:48,y0:585,dy:12,rows:[['Marcha 2 Engatada','#2020ff'],['diam cil','#2020ff'],['Marcha 3 Engatada','#ff2020'],['Marcha 1 Engatada','#2a9a2a']],groups:[[0,3]]}
];
const graphics = [];
legendSpecs.forEach(L=>{
  graphics.push({type:'rect',z:100,shape:{x:L.x+0.5,y:L.y+0.5,width:L.w,height:L.h},style:{fill:'#fff',stroke:'#c4c4c4',lineWidth:1}});
  L.rows.forEach((r,i)=>{graphics.push({type:'text',z:101,x:70,y:L.y0+i*L.dy,style:{text:r[0],fill:r[1],fontSize:10.5,fontFamily:FONT,verticalAlign:'middle',align:'left'}});});
  L.groups.forEach(g=>{
    const c=L.rows[g[0]][1], ya=L.y0+g[0]*L.dy, yb=L.y0+g[1]*L.dy;
    graphics.push({type:'line',z:101,shape:{x1:59,y1:Math.round(ya)+0.5,x2:67,y2:Math.round(ya)+0.5},style:{stroke:c,lineWidth:1}});
    if(g[1]>g[0]){
      graphics.push({type:'line',z:101,shape:{x1:62.5,y1:Math.round(ya)+0.5,x2:62.5,y2:Math.round(yb)+0.5},style:{stroke:c,lineWidth:1}});
      for(let k=g[0]+1;k<=g[1];k++){const yy=Math.round(L.y0+k*L.dy)+0.5;graphics.push({type:'line',z:101,shape:{x1:62.5,y1:yy,x2:67,y2:yy},style:{stroke:c,lineWidth:1}});}
    }
  });
});
// annotation
graphics.push({type:'rect',z:100,shape:{x:481.5,y:89,width:80,height:39},style:{fill:'#fff'}});
graphics.push({type:'text',z:101,x:483,y:100.5,style:{text:'Pulsos',fill:'#000',fontSize:17,fontWeight:'bold',fontFamily:FONT,verticalAlign:'middle',align:'left'}});
graphics.push({type:'text',z:101,x:483,y:117.5,style:{text:'de "jog"',fill:'#000',fontSize:17,fontWeight:'bold',fontFamily:FONT,verticalAlign:'middle',align:'left'}});
graphics.push({type:'line',z:101,shape:{x1:513,y1:133,x2:505.5,y2:152},style:{stroke:'#000',lineWidth:1.2}});
graphics.push({type:'line',z:101,shape:{x1:506,y1:152,x2:499.5,y2:164},style:{stroke:'#000',lineWidth:3.5,lineCap:'round'}});

const chart = echarts.init(document.getElementById('c'),null,{renderer:'canvas'});
chart.setOption({
  backgroundColor:'#c8c8c8',animation:false,
  grid: grids.map(g=>({left:52,right:0,top:g[0],height:g[1],show:true,backgroundColor:'#ffffff',borderWidth:0,containLabel:false})),
  xAxis: grids.map((g,i)=>xAx(i,i===grids.length-1)),
  yAxis: yAxes,
  series: series,
  graphic: {elements: graphics}
});
</script></body></html>
